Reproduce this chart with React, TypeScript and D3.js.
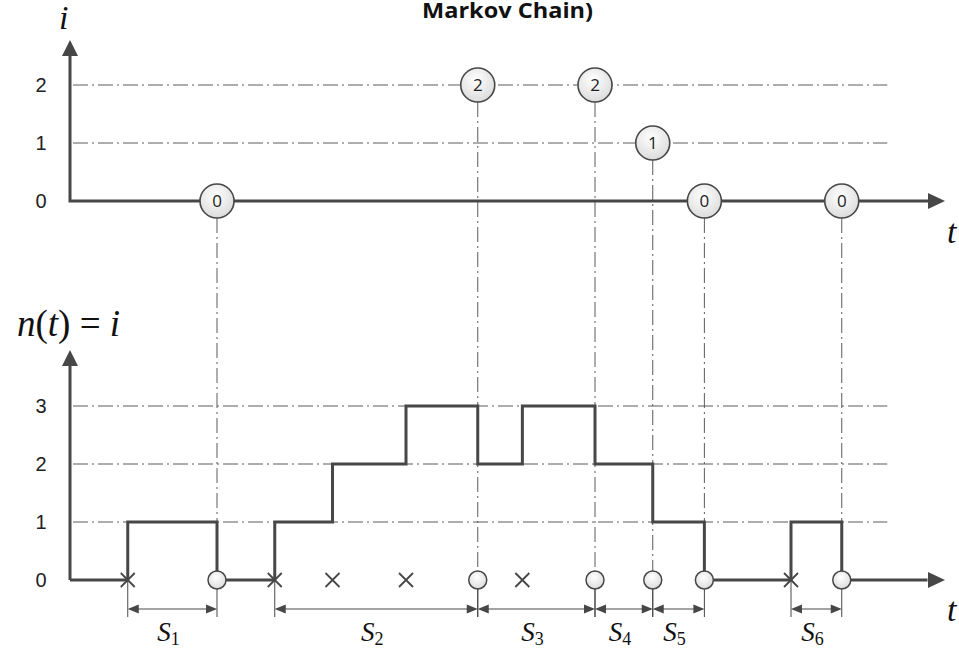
import * as d3 from 'd3';

// time in arbitrary units
const arrivals = [6.6, 23.4, 30, 38.4, 51.7, 82.4];
const departures = [16.8, 46.6, 60, 66.6, 72.5, 88.2];
const embeddedStates = [0, 2, 2, 1, 0, 0];
const topTicks = [0, 1, 2];
const bottomTicks = [0, 1, 2, 3];
const periodLabels = ['1', '2', '3', '4', '5', '6'];
const periodStarts = [6.6, 23.4, 46.6, 60, 66.6, 82.4];
const periodEnds = [16.8, 46.6, 60, 66.6, 72.5, 88.2];
const gridEnd = 93.4;
const timeEnd = 100;

const INK = '#474747';
const GRID = '#5a5a5a';
const DASH = '15,4,2,4';
const SERIF = '"Liberation Serif", "DejaVu Serif", serif';
const SANS = '"Liberation Sans", Arial, sans-serif';

export default function App() {
  const x = d3.scaleLinear().domain([0, timeEnd]).range([70, 945]);
  const yTop = d3.scaleLinear().domain([0, 2]).range([201, 85]);
  const yBot = d3.scaleLinear().domain([0, 3]).range([580, 406]);

  // queue length n(t) from arrivals and departures
  const events = [
    ...arrivals.map((t) => ({ t, d: 1 })),
    ...departures.map((t) => ({ t, d: -1 })),
  ].sort((a, b) => a.t - b.t);
  const steps: [number, number][] = [[0, 0]];
  let n = 0;
  events.forEach((e) => {
    n += e.d;
    steps.push([e.t, n]);
  });
  steps.push([timeEnd - 2, n]);
  const stepLine = d3
    .line<[number, number]>()
    .x((d) => x(d[0]))
    .y((d) => yBot(d[1]))
    .curve(d3.curveStepAfter);

  const rTop = 17;
  const rBot = 9;
  const x0 = x(0);

  const arrowUp = (tx: number, ty: number) =>
    `M${tx},${ty} L${tx - 8},${ty + 16} L${tx + 8},${ty + 16} Z`;
  const arrowRight = (tx: number, ty: number) =>
    `M${tx},${ty} L${tx - 17},${ty - 8} L${tx - 17},${ty + 8} Z`;
  const small = (tx: number, ty: number, dir: number) =>
    `M${tx},${ty} L${tx - dir * 11},${ty - 4.5} L${tx - dir * 11},${ty + 4.5} Z`;

  const dimY = 609;

  return (
    <svg
      width={959}
      height={648}
      style={{ position: 'absolute', left: 0, top: 0, background: '#fff' }}
    >
      <defs>
        <radialGradient id="bub" cx="45%" cy="35%" r="70%">
          <stop offset="0%" stopColor="#ffffff" />
          <stop offset="100%" stopColor="#d9d9d9" />
        </radialGradient>
      </defs>

      <text x={422} y={18} fontFamily='"Open Sans", sans-serif' fontWeight="bold" fontSize={21} fill="#111" textLength={171} lengthAdjust="spacingAndGlyphs">
        Markov Chain)
      </text>

      {/* top chart grid */}
      {topTicks.slice(1).map((v) => (
        <line key={'tg' + v} x1={x0 + 3} x2={x(gridEnd)} y1={yTop(v)} y2={yTop(v)} stroke={GRID} strokeWidth={1} strokeDasharray={DASH} />
      ))}
      {/* bottom chart grid */}
      {bottomTicks.slice(1).map((v) => (
        <line key={'bg' + v} x1={x0 + 3} x2={x(gridEnd)} y1={yBot(v)} y2={yBot(v)} stroke={GRID} strokeWidth={1} strokeDasharray={DASH} />
      ))}

      {/* vertical guides from each departure */}
      {departures.map((t, i) => (
        <line key={'vg' + i} x1={x(t)} x2={x(t)} y1={yTop(embeddedStates[i]) + rTop} y2={yBot(0) - rBot} stroke={GRID} strokeWidth={1} strokeDasharray={DASH} />
      ))}

      {/* tick labels */}
      {topTicks.map((v) => (
        <text key={'tt' + v} x={41} y={yTop(v) + 7} textAnchor="middle" fontFamily={SANS} fontSize={20} fill="#222">{v}</text>
      ))}
      {bottomTicks.map((v) => (
        <text key={'bt' + v} x={41} y={yBot(v) + 7} textAnchor="middle" fontFamily={SANS} fontSize={20} fill="#222">{v}</text>
      ))}

      {/* axes */}
      <path d={`M${x0},54 L${x0},${yTop(0)} L${x(timeEnd) - 16},${yTop(0)}`} fill="none" stroke={INK} strokeWidth={3} />
      <path d={arrowUp(x0, 40)} fill={INK} />
      <path d={arrowRight(x(timeEnd), yTop(0))} fill={INK} />

      <path d={`M${x0},364 L${x0},${yBot(0)}`} fill="none" stroke={INK} strokeWidth={3} />
      <path d={arrowUp(x0, 350)} fill={INK} />
      <path d={stepLine(steps) ?? ''} fill="none" stroke={INK} strokeWidth={3} />
      <path d={arrowRight(x(timeEnd), yBot(0))} fill={INK} />

      {/* axis labels */}
      <text x={59} y={29} fontFamily={SERIF} fontStyle="italic" fontSize={34} fill="#111">i</text>
      <text x={947} y={243} fontFamily={SERIF} fontStyle="italic" fontSize={34} fill="#111">t</text>
      <text x={947} y={621} fontFamily={SERIF} fontStyle="italic" fontSize={34} fill="#111">t</text>
      <text x={17} y={336} fontFamily={SERIF} fontSize={37} fill="#111">
        <tspan fontStyle="italic">n</tspan>(<tspan fontStyle="italic">t</tspan>) = <tspan fontStyle="italic">i</tspan>
      </text>

      {/* dimension lines */}
      {periodStarts.map((s, i) => {
        const a = x(s);
        const b = x(periodEnds[i]);
        return (
          <g key={'dim' + i}>
            <line x1={a} x2={a} y1={yBot(0)} y2={617} stroke={INK} strokeWidth={1} />
            <line x1={b} x2={b} y1={yBot(0)} y2={617} stroke={INK} strokeWidth={1} />
            <line x1={a + 2} x2={b - 2} y1={dimY} y2={dimY} stroke={INK} strokeWidth={1} />
            <path d={small(a, dimY, -1)} fill={INK} />
            <path d={small(b, dimY, 1)} fill={INK} />
            <text x={(a + b) / 2 - 4} y={641} textAnchor="middle" fontFamily={SERIF} fontSize={27} fill="#111">
              <tspan fontStyle="italic">S</tspan>
              <tspan fontSize={18} dy={4}>{periodLabels[i]}</tspan>
            </text>
          </g>
        );
      })}

      {/* arrivals */}
      {arrivals.map((t, i) => (
        <path key={'a' + i} d={`M${x(t) - 7},${yBot(0) - 7} L${x(t) + 7},${yBot(0) + 7} M${x(t) - 7},${yBot(0) + 7} L${x(t) + 7},${yBot(0) - 7}`} stroke={INK} strokeWidth={1.8} />
      ))}
      {/* departures */}
      {departures.map((t, i) => (
        <circle key={'d' + i} cx={x(t)} cy={yBot(0)} r={rBot} fill="url(#bub)" stroke={INK} strokeWidth={1.5} />
      ))}

      {/* embedded chain states */}
      {departures.map((t, i) => (
        <g key={'s' + i}>
          <circle cx={x(t)} cy={yTop(embeddedStates[i])} r={rTop} fill="url(#bub)" stroke={INK} strokeWidth={1.6} />
          <text x={x(t)} y={yTop(embeddedStates[i]) + 6} textAnchor="middle" fontFamily='"Open Sans", sans-serif' fontSize={17} fill="#222">
            {embeddedStates[i]}
          </text>
        </g>
      ))}
    </svg>
  );
}
